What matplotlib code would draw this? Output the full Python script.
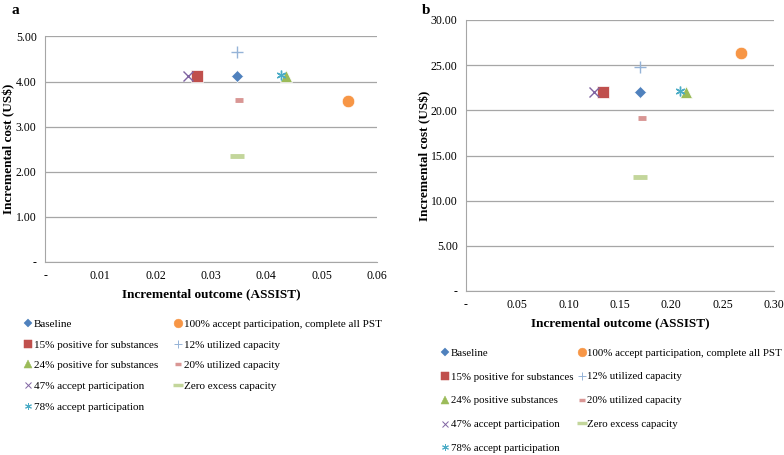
import matplotlib.pyplot as plt
from matplotlib.lines import Line2D

plt.rcParams['font.family'] = ['Liberation Serif', 'DejaVu Serif']

# Scenario names (legend order for each panel)
labels_a = ["Baseline", "15% positive for substances", "24% positive for substances",
            "47% accept participation", "78% accept participation",
            "100% accept participation, complete all PST", "12% utilized capacity",
            "20% utilized capacity", "Zero excess capacity"]
labels_b = ["Baseline", "15% positive for substances", "24% positive substances",
            "47% accept participation", "78% accept participation",
            "100% accept participation, complete all PST", "12% utilized capacity",
            "20% utilized capacity", "Zero excess capacity"]

# Panel a: incremental outcome (ASSIST) and incremental cost (US$)
outcome_a = [0.0347, 0.0274, 0.0436, 0.0258, 0.0427, 0.0548, 0.0347, 0.0350, 0.0347]
cost_a = [4.12, 4.12, 4.12, 4.12, 4.14, 3.56, 4.65, 3.60, 2.35]

# Panel b
outcome_b = [0.169, 0.133, 0.214, 0.125, 0.208, 0.268, 0.169, 0.171, 0.169]
cost_b = [22.0, 22.0, 22.0, 22.0, 22.1, 26.4, 24.8, 19.2, 12.6]

styles = [
    dict(marker="D", color="#4F81BD", ms=6.5, mew=0.5, filled=True),
    dict(marker="s", color="#C0504D", ms=8, mew=0.5, filled=True),
    dict(marker="^", color="#9BBB59", ms=8, mew=0.5, filled=True),
    dict(marker="x", color="#8064A2", ms=7, mew=1.0, filled=False),
    dict(marker=(6, 2, 0), color="#4BACC6", ms=7, mew=1.0, filled=False),
    dict(marker="o", color="#F79646", ms=9, mew=0.5, filled=True),
    dict(marker="+", color="#95B3D7", ms=9, mew=1.0, filled=False),
    dict(marker="_", color="#D99694", ms=6, mew=3.5, filled=False),
    dict(marker="_", color="#C3D69B", ms=10, mew=3.5, filled=False),
]

fig = plt.figure(figsize=(7.84, 4.55), dpi=100)
W, H = 784, 455


def panel(rect, xs, ys, labels, xmax, xstep, ymax, ystep, letter, letter_xy,
          ylab_x, leg_anchor, leg_gap, leg_col, leg_size):
    l, t, r, b = rect
    ax = fig.add_axes([l / W, 1 - b / H, (r - l) / W, (b - t) / H])
    for x, y, st in zip(xs, ys, styles):
        edge = "white" if st["filled"] else st["color"]
        ax.plot([x], [y], linestyle="none", marker=st["marker"], color=st["color"],
                markersize=st["ms"], markeredgewidth=st["mew"], markeredgecolor=edge)
    ax.set_xlim(0, xmax)
    ax.set_ylim(0, ymax)
    nx = int(round(xmax / xstep))
    ny = int(round(ymax / ystep))
    xt = [i * xstep for i in range(nx + 1)]
    yt = [i * ystep for i in range(ny + 1)]
    ax.set_xticks(xt)
    ax.set_xticklabels(["-"] + [f"{v:.2f}" for v in xt[1:]])
    ax.set_yticks(yt)
    ax.set_yticklabels(["-"] + [f"{v:.2f}" for v in yt[1:]])
    ax.tick_params(length=0, labelsize=8.5, pad=6)
    ax.grid(axis="y", color="#A6A6A6", linewidth=0.9)
    ax.set_axisbelow(True)
    for s in ["top", "right"]:
        ax.spines[s].set_visible(False)
    for s in ["left", "bottom"]:
        ax.spines[s].set_color("#A6A6A6")
    ax.set_xlabel("Incremental outcome (ASSIST)", fontsize=9.5, fontweight="bold", labelpad=4)
    ax.set_ylabel("Incremental cost (US$)", fontsize=9.5, fontweight="bold")
    ax.yaxis.set_label_coords((ylab_x - l) / (r - l), 0.5)
    fig.text(letter_xy[0] / W, 1 - letter_xy[1] / H, letter, fontsize=11,
             fontweight="bold", va="center", ha="left")
    leg_handles = [Line2D([], [], linestyle="none", marker=st["marker"], color=st["color"],
                          markersize=st["ms"] * 0.7, markeredgewidth=st["mew"] * 0.7)
                   for st in styles]
    fig.legend(leg_handles, labels, loc="upper left",
               bbox_to_anchor=(leg_anchor[0] / W, 1 - leg_anchor[1] / H),
               ncol=2, frameon=False, fontsize=leg_size, handlelength=0.6,
               handletextpad=0.2, labelspacing=leg_gap, columnspacing=leg_col,
               borderaxespad=0, borderpad=0)
    return ax


panel((45, 36.5, 377, 262), outcome_a, cost_a, labels_a, 0.06, 0.01, 5.0, 1.0,
      "a", (12, 11), 15, (25, 319), 0.99, 1.5, 8)
panel((466, 20, 774, 291), outcome_b, cost_b, labels_b, 0.30, 0.05, 30.0, 5.0,
      "b", (422, 10), 431, (442, 348), 1.32, 0.5, 7.8)

fig.savefig("out.png", dpi=100)
